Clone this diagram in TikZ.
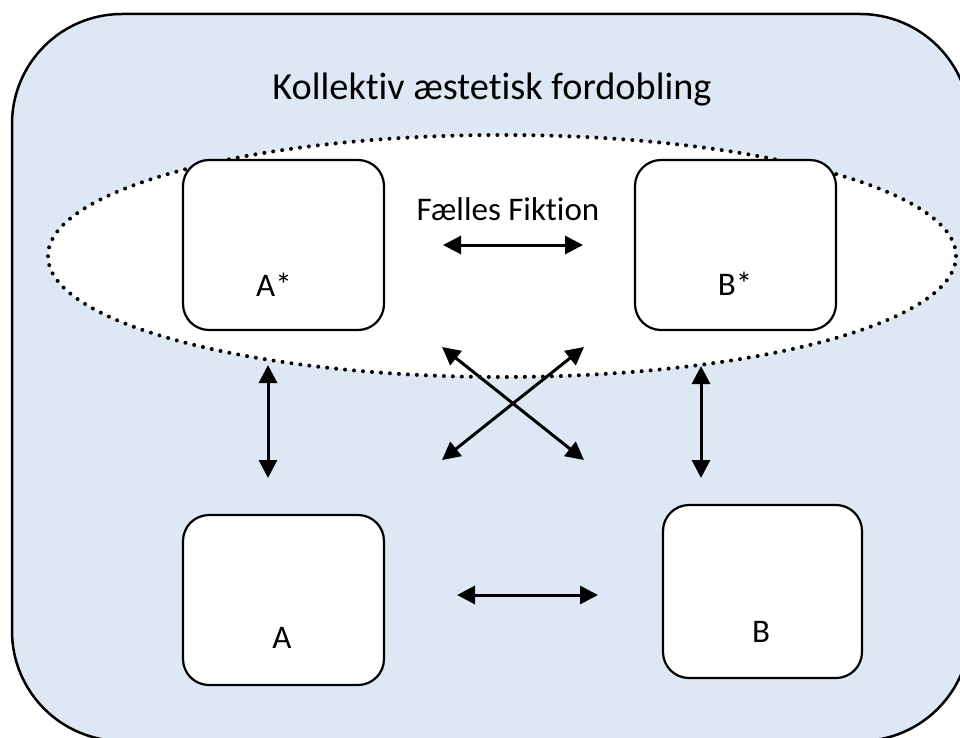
\documentclass[tikz,border=0pt]{standalone}
\usepackage{fontspec}
\setmainfont{Carlito}[Ligatures=NoCommon]
\usetikzlibrary{arrows.meta}
\definecolor{bgblue}{HTML}{DEE8F4}
\begin{document}
\begin{tikzpicture}[x=1pt,y=-1pt,
  box/.style={draw,fill=white,line width=2.2pt,rounded corners=26pt,inner sep=0pt},
  dbl/.style={{Triangle[length=18pt,width=18pt]}-{Triangle[length=18pt,width=18pt]},line width=3pt},
  lbl/.style={anchor=base,inner sep=0pt,font=\fontsize{33}{39}\selectfont},
  ttl/.style={anchor=base,inner sep=0pt,font=\fontsize{38.3}{44}\selectfont}]
\useasboundingbox (0,0) rectangle (960,738);
\begin{scope}
  \clip (0,0) rectangle (960,738);
  \draw[fill=bgblue,line width=2.5pt,rounded corners=110pt] (12,14) rectangle (970,741);
\end{scope}
% dotted ellipse
\draw[fill=white,line width=4pt,line cap=round,dash pattern=on 0pt off 9pt]
  (502,256) ellipse [x radius=454pt,y radius=121pt];
% boxes
\node[box,minimum width=201pt,minimum height=170pt] (As) at (283.5,245) {};
\node[box,minimum width=201pt,minimum height=170pt] (Bs) at (735.5,245) {};
\node[box,minimum width=201pt,minimum height=170pt] (A) at (283.5,600) {};
\node[box,minimum width=199pt,minimum height=173pt] (B) at (762.5,591.5) {};
% texts
\node[ttl] (title) at (492,100) {Kollektiv æstetisk fordobling};
\node[lbl] (ff) at (508,220) {Fælles Fiktion};
\node[lbl] (lAs) at (274,296) {A*};
\node[lbl] (lBs) at (735,295) {B*};
\node[lbl] (lA) at (282,648) {A};
\node[lbl] (lB) at (761,642) {B};
% arrow end points
\coordinate (h1) at (443,245);
\coordinate (h2) at (583,245);
\coordinate (v1) at (268,365);
\coordinate (v2) at (268,478);
\coordinate (w1) at (701,366);
\coordinate (w2) at (701,478);
\coordinate (x1) at (442,347);
\coordinate (x2) at (584,460);
\coordinate (x3) at (584,347);
\coordinate (x4) at (442,460);
\coordinate (b1) at (457,595);
\coordinate (b2) at (598,595);
\draw[dbl] (h1) -- (h2);
\draw[dbl] (v1) -- (v2);
\draw[dbl] (w1) -- (w2);
\draw[dbl] (x1) -- (x2);
\draw[dbl] (x3) -- (x4);
\draw[dbl] (b1) -- (b2);
\end{tikzpicture}
\end{document}
